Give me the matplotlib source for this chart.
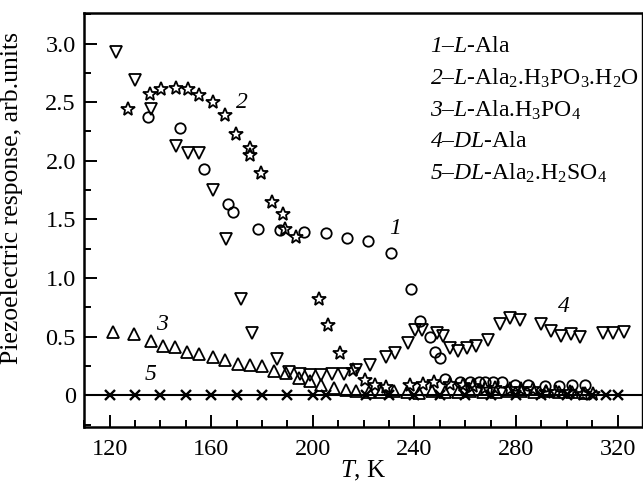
import matplotlib
matplotlib.use("Agg")
import matplotlib.pyplot as plt
from matplotlib.ticker import MultipleLocator, FixedLocator

plt.rcParams["font.family"] = ["Liberation Serif", "DejaVu Serif"]
plt.rcParams["mathtext.fontset"] = "custom"
plt.rcParams["mathtext.rm"] = "Liberation Serif"
plt.rcParams["mathtext.it"] = "Liberation Serif:italic"
# mathtext puts digits upright under \mathit, so use sf slot for italic numbers
plt.rcParams["mathtext.sf"] = "Liberation Serif:italic"

# 1 - L-Ala (circles)
t1 = [135.1, 147.6, 157.0, 166.6, 168.6, 178.4, 186.9, 196.4, 205.3, 213.4, 221.7,
      230.9, 238.5, 242.3, 246.3, 248.2, 249.9, 252.0, 257.8, 261.7, 265.6, 267.6,
      270.9, 274.6, 279.8, 284.7, 291.3, 296.8, 302.2, 307.0]
v1 = [2.37, 2.28, 1.93, 1.63, 1.56, 1.42, 1.41, 1.39, 1.38, 1.34, 1.32,
      1.21, 0.91, 0.63, 0.50, 0.37, 0.32, 0.14, 0.11, 0.11, 0.11, 0.11,
      0.11, 0.11, 0.09, 0.09, 0.08, 0.08, 0.09, 0.09]

# 2 - L-Ala2.H3PO3.H2O (stars)
t2 = [127.2, 135.7, 140.4, 146.0, 150.8, 155.0, 160.7, 165.3, 169.6, 175.4, 175.4,
      179.7, 184.1, 188.2, 188.9, 193.5, 202.3, 206.0, 210.6, 215.8, 220.7, 224.6,
      228.7, 238.1, 243.3, 247.9, 253.9, 259.1, 263.1, 267.7, 271.6, 277.5, 282.1,
      286.7, 291.9, 295.9, 301.1, 306.3, 310.3]
v2 = [2.44, 2.57, 2.61, 2.62, 2.61, 2.56, 2.50, 2.39, 2.23, 2.11, 2.05,
      1.90, 1.65, 1.55, 1.42, 1.35, 0.82, 0.60, 0.36, 0.22, 0.13, 0.09,
      0.07, 0.09, 0.10, 0.11, 0.10, 0.09, 0.08, 0.06, 0.06, 0.05, 0.05,
      0.05, 0.03, 0.03, 0.03, 0.01, 0.01]

# 3 - L-Ala.H3PO4 (up triangles)
t3 = [121.3, 129.6, 136.4, 141.0, 145.6, 150.4, 155.0, 160.7, 165.5, 170.5, 175.1,
      180.0, 184.7, 189.6, 194.6, 198.8, 203.4, 208.4, 213.0, 217.0, 222.0, 227.0,
      232.0, 237.0, 242.0, 247.0, 252.0, 257.0, 262.0, 267.0, 272.0, 277.0, 282.0,
      287.0, 292.0, 297.0, 302.0, 307.0]
v3 = [0.54, 0.52, 0.46, 0.42, 0.41, 0.37, 0.35, 0.33, 0.30, 0.27, 0.26,
      0.25, 0.21, 0.19, 0.15, 0.12, 0.085, 0.063, 0.043, 0.034, 0.03, 0.03,
      0.04, 0.03, 0.02, 0.04, 0.03, 0.03, 0.04, 0.03, 0.03, 0.04, 0.04,
      0.03, 0.04, 0.03, 0.03, 0.02]

# 4 - DL-Ala (down triangles)
t4 = [122.4, 129.8, 136.4, 146.0, 150.8, 155.0, 160.7, 165.9, 171.8, 176.0, 185.9,
      190.6, 194.8, 199.0, 203.4, 207.6, 212.2, 217.1, 222.4, 228.7, 232.2, 237.4,
      240.1, 243.1, 249.0, 251.2, 254.1, 257.1, 260.7, 264.1, 269.0, 273.6, 277.5,
      281.4, 289.9, 293.9, 297.8, 301.8, 305.3, 314.2, 318.2, 322.4]
v4 = [2.93, 2.69, 2.44, 2.13, 2.07, 2.07, 1.75, 1.33, 0.82, 0.53, 0.31,
      0.20, 0.185, 0.17, 0.17, 0.18, 0.185, 0.22, 0.26, 0.33, 0.36, 0.45,
      0.56, 0.56, 0.53, 0.51, 0.40, 0.375, 0.40, 0.42, 0.47, 0.61, 0.66,
      0.64, 0.61, 0.55, 0.51, 0.52, 0.50, 0.53, 0.53, 0.54]

# 5 - DL-Ala2.H2SO4 (crosses)
t5 = [120, 130, 140, 150, 160, 170, 180, 190, 200, 205, 221, 230, 240, 250, 260,
      270, 280, 290, 300, 310, 315.5, 320]
v5 = [0.0] * len(t5)

legend_lines = [
    r"$\mathsf{1}$–$\mathit{L}$-Ala",
    r"$\mathsf{2}$–$\mathit{L}$-Ala$_2$.H$_3$PO$_3$.H$_2$O",
    r"$\mathsf{3}$–$\mathit{L}$-Ala.H$_3$PO$_4$",
    r"$\mathsf{4}$–$\mathit{DL}$-Ala",
    r"$\mathsf{5}$–$\mathit{DL}$-Ala$_2$.H$_2$SO$_4$",
]
curve_labels = [("1", 232.5, 1.42), ("2", 172.0, 2.50), ("3", 140.5, 0.60),
                ("4", 299.0, 0.76), ("5", 136.0, 0.18)]

fig = plt.figure(figsize=(6.43, 4.83), dpi=100)
ax = fig.add_axes([0.131, 0.116, 0.867, 0.857])

ax.axhline(0, color="black", lw=1.5, zorder=1)

mk = dict(ls="none", mfc="none", mec="black", mew=1.3, zorder=3)
ax.plot(t1, v1, marker="o", ms=7.5, **mk)
ax.plot(t2, v2, marker="*", ms=10.5, **mk)
ax.plot(t3, v3, marker="^", ms=8.5, **mk)
ax.plot(t4, v4, marker="v", ms=8.5, **mk)
ax.plot(t5, v5, marker="x", ms=7.5, ls="none", color="black", mew=1.7, zorder=3)

ax.set_xlim(110, 329.5)
ax.set_ylim(-0.27, 3.26)

ax.xaxis.set_major_locator(MultipleLocator(40))
ax.xaxis.set_minor_locator(MultipleLocator(10))
ax.yaxis.set_major_locator(FixedLocator([0, 0.5, 1.0, 1.5, 2.0, 2.5, 3.0]))
ax.yaxis.set_minor_locator(MultipleLocator(0.25))
ax.set_yticklabels(["0", "0.5", "1.0", "1.5", "2.0", "2.5", "3.0"])

ax.tick_params(which="both", direction="in", top=False, right=False,
               labelsize=17.5, width=1.4)
ax.tick_params(which="major", length=9)
ax.tick_params(which="minor", length=5)
ax.tick_params(axis="y", which="major", pad=6)
ax.tick_params(axis="x", which="major", pad=9)

for s in ["left", "bottom", "top"]:
    ax.spines[s].set_linewidth(1.8)
ax.spines["right"].set_linewidth(1.0)

ax.set_xlabel(r"$\mathit{T}$, K", fontsize=18, labelpad=-1)
ax.set_ylabel("Piezoelectric response, arb.units", fontsize=18.5)
ax.yaxis.set_label_coords(-0.11, 0.553)

for i, txt in enumerate(legend_lines):
    ax.text(0.62, 0.92 - i * 0.077, txt, transform=ax.transAxes,
            fontsize=17, va="center", ha="left")

for lab, x, y in curve_labels:
    ax.text(x, y, lab, fontsize=17, style="italic", ha="center", va="center")

fig.savefig("out.png", dpi=100)
